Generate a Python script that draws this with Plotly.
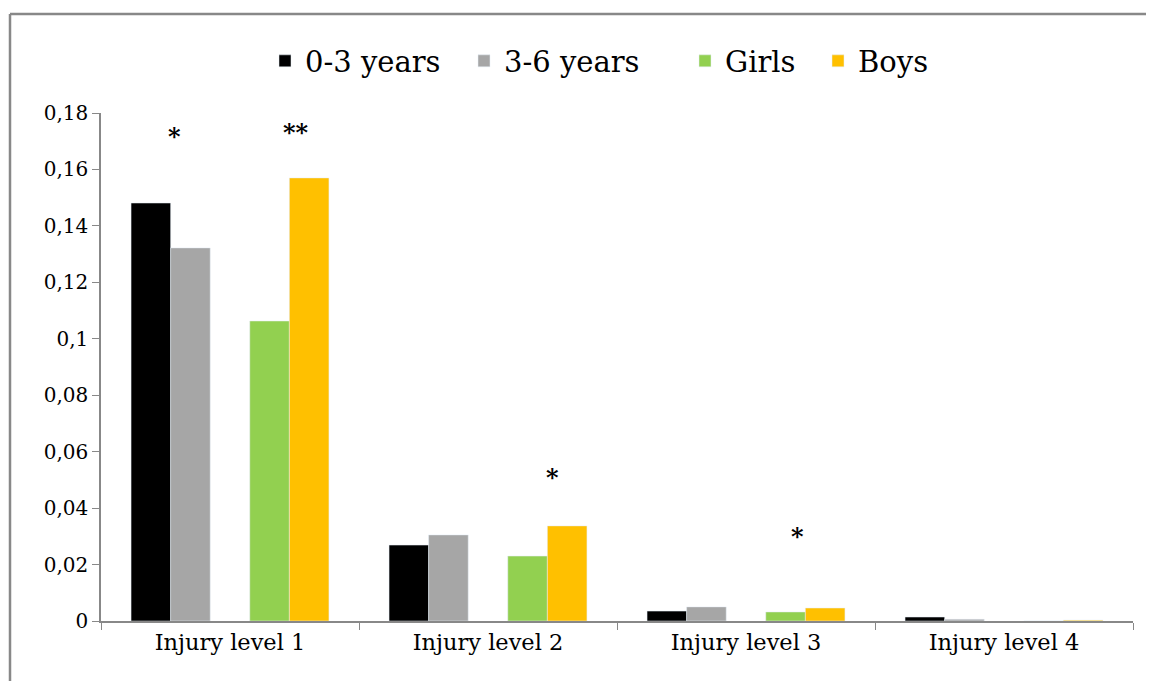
import plotly.graph_objects as go

categories = ["Injury level 1", "Injury level 2", "Injury level 3", "Injury level 4"]
age_0_3 = [0.1481, 0.0269, 0.0035, 0.0014]
age_3_6 = [0.1322, 0.0305, 0.0050, 0.0006]
girls = [0.1063, 0.0230, 0.0032, 0.0]
boys = [0.1570, 0.0337, 0.0046, 0.0003]
spacer = [None, None, None, None]

y_tickvals = [0, 0.02, 0.04, 0.06, 0.08, 0.1, 0.12, 0.14, 0.16, 0.18]
y_ticktext = ["0", "0,02", "0,04", "0,06", "0,08", "0,1", "0,12", "0,14", "0,16", "0,18"]

# significance marks: (category, y value, text, x pixel shift)
sig_cats = ["Injury level 1", "Injury level 1", "Injury level 2", "Injury level 3"]
sig_y = [0.1715, 0.1730, 0.0510, 0.0298]
sig_text = ["*", "**", "*", "*"]
sig_shift = [-56, 66, 64, 51]

FONT = "DejaVu Serif"
OFF = 8  # page body margin offset
W, H = 1154, 681
L = 101 - OFF
T = 113 - OFF
R = W - (1133 - OFF)
B = H - (621 - OFF)
PW = W - L - R
PH = H - T - B


def px_x(p):
    return (p - OFF - L) / PW


def px_y(p):
    return (H - B - (p - OFF)) / PH


fig = go.Figure()
fig.add_trace(go.Bar(name="0-3 years", x=categories, y=age_0_3, marker_color="#000000", legend="legend"))
fig.add_trace(go.Bar(name="3-6 years", x=categories, y=age_3_6, marker_color="#A6A6A6", legend="legend2"))
fig.add_trace(go.Bar(name="", x=categories, y=spacer, showlegend=False,
                     marker_color="rgba(0,0,0,0)", hoverinfo="skip"))
fig.add_trace(go.Bar(name="Girls", x=categories, y=girls, marker_color="#92D050", legend="legend3"))
fig.add_trace(go.Bar(name="Boys", x=categories, y=boys, marker_color="#FFC000", legend="legend4"))

for c, yv, t, s in zip(sig_cats, sig_y, sig_text, sig_shift):
    fig.add_annotation(x=c, y=yv, text="<b>" + t + "</b>", showarrow=False, xshift=s,
                       font=dict(family=FONT, size=24, color="black"))

# outer chart frame (left and top edges visible)
fig.add_shape(type="line", xref="paper", yref="paper",
              x0=px_x(10), x1=px_x(10), y0=px_y(700), y1=px_y(14),
              line=dict(color="#888888", width=2.5), layer="below")
fig.add_shape(type="line", xref="paper", yref="paper",
              x0=px_x(10), x1=px_x(1170), y0=px_y(14), y1=px_y(14),
              line=dict(color="#888888", width=2.5), layer="below")

leg_common = dict(orientation="h", yanchor="middle", y=px_y(61), xanchor="left",
                  bgcolor="rgba(0,0,0,0)", font=dict(family=FONT, size=29, color="black"))
sq_centers = [291, 490, 711, 844]
legends = {}
for i, cx in enumerate(sq_centers):
    key = "legend" if i == 0 else f"legend{i + 1}"
    legends[key] = dict(leg_common, x=px_x(cx - 26))

fig.update_layout(
    width=W, height=H,
    barmode="group", bargap=0.233, bargroupgap=0,
    plot_bgcolor="white", paper_bgcolor="white",
    margin=dict(l=L, r=R, t=T, b=B, autoexpand=False),
    font=dict(family=FONT, size=20, color="black"),
    xaxis=dict(showline=True, linecolor="#888888", linewidth=1.5, ticks="outside",
               tickson="boundaries", ticklen=7, tickcolor="#888888",
               tickfont=dict(family=FONT, size=22.5)),
    yaxis=dict(range=[0, 0.18], tickvals=y_tickvals, ticktext=y_ticktext,
               showgrid=False, zeroline=False, showline=True, linecolor="#888888",
               linewidth=1.5, ticks="outside", ticklen=7, tickcolor="#888888",
               tickfont=dict(family=FONT, size=20)),
    **legends,
)

fig.write_html("out.html")
